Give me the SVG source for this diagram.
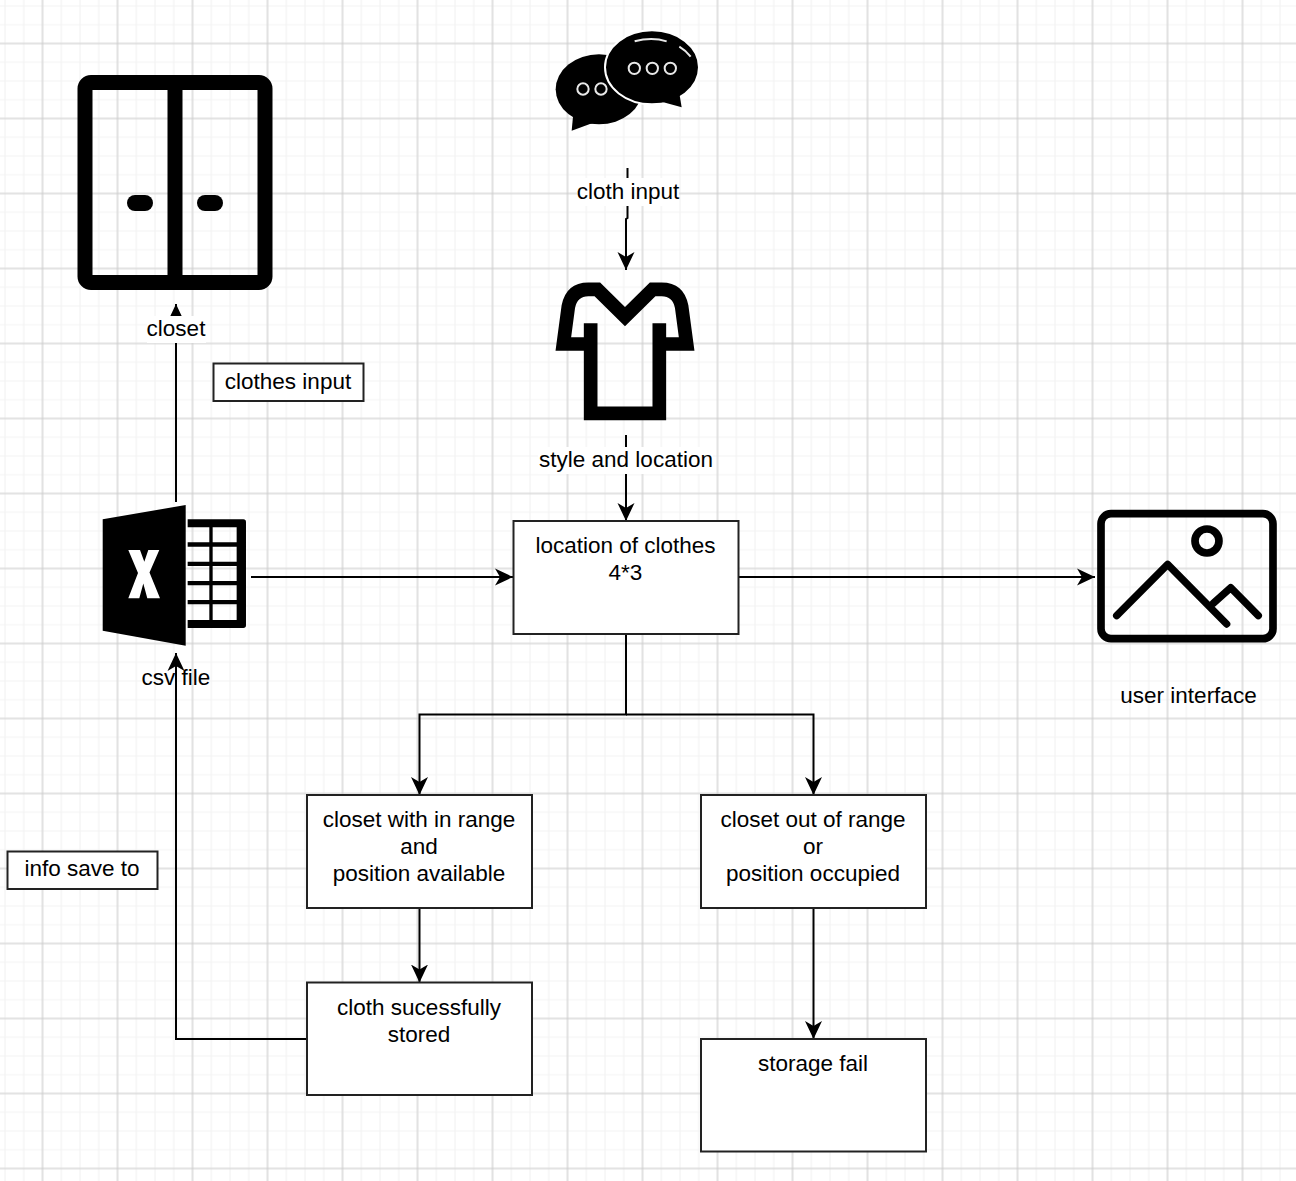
<svg xmlns="http://www.w3.org/2000/svg" width="1296" height="1181" viewBox="0 0 1296 1181">
<style>
text{font-family:"Liberation Sans",Arial,sans-serif;font-size:22.500px;fill:#000;text-anchor:middle}
.box{fill:#fff;stroke:#222;stroke-width:2}
.edge{fill:none;stroke:#000;stroke-width:2}
</style>
<defs>
<pattern id="minor" width="18.75" height="18.75" patternUnits="userSpaceOnUse" x="4" y="5"><path d="M0 1H18.75M1 0V18.75" fill="none" stroke="#f3f3f3" stroke-width="1.200"/></pattern>
<pattern id="major" width="75" height="75" patternUnits="userSpaceOnUse" x="41.500" y="42.500"><path d="M0 1H75M1 0V75" fill="none" stroke="#cccccc" stroke-width="1"/></pattern>
<marker id="arrow" markerUnits="userSpaceOnUse" markerWidth="20" markerHeight="20" refX="18" refY="9" orient="auto" viewBox="0 0 20 18"><path d="M0 0.500L18 9L0 17.500L5 9Z" fill="#000"/></marker>
</defs>
<rect width="1296" height="1181" fill="#fff"/>
<rect width="1296" height="1181" fill="url(#minor)"/>
<rect width="1296" height="1181" fill="url(#major)"/>
<g id="connectors">
<path class="edge" d="M627.500 168V218L626 219V270" marker-end="url(#arrow)"/>
<path class="edge" d="M626 435V521" marker-end="url(#arrow)"/>
<path class="edge" d="M176 502V304" marker-end="url(#arrow)"/>
<path class="edge" d="M251 577H513" marker-end="url(#arrow)"/>
<path class="edge" d="M738.500 577H1095" marker-end="url(#arrow)"/>
<path class="edge" d="M626 634V714.500H419.500V795" marker-end="url(#arrow)"/>
<path class="edge" d="M626 714.500H813.500V795" marker-end="url(#arrow)"/>
<path class="edge" d="M419.500 908V982.500" marker-end="url(#arrow)"/>
<path class="edge" d="M813.500 908V1039" marker-end="url(#arrow)"/>
<path class="edge" d="M307 1039H176V653" marker-end="url(#arrow)"/>
</g>
<g id="closet">
<rect x="85" y="82.500" width="180" height="200" rx="6" fill="none" stroke="#000" stroke-width="15"/>
<rect x="167.500" y="80" width="15" height="205" fill="#000"/>
<rect x="127" y="195" width="26" height="16" rx="8" fill="#000"/>
<rect x="197" y="195" width="26" height="16" rx="8" fill="#000"/>
<rect x="147" y="316" width="59" height="27" fill="#fff"/>
<text x="176" y="336">closet</text>
</g>
<g id="chat">
<g transform="translate(530 10) scale(.3333)">
<ellipse cx="207" cy="238" rx="130" ry="105" fill="#000"/>
<path d="M130 310L125 362L190 338Z" fill="#000"/>
<ellipse cx="366" cy="172" rx="141" ry="111" fill="#000" stroke="#fff" stroke-width="6"/>
<path d="M395 275L455 292L448 250Z" fill="#000"/>
<g fill="none" stroke="#e8e8e8" stroke-width="6">
<circle cx="159" cy="237" r="17"/><circle cx="213" cy="237" r="17"/>
<circle cx="313" cy="175" r="17"/><circle cx="367" cy="175" r="17"/><circle cx="421" cy="175" r="17"/>
<path d="M314 94Q365 80 410 94M448 110Q468 122 482 140"/>
</g>
</g>
<rect x="577" y="178" width="102" height="28" fill="#fff"/>
<text x="628" y="199">cloth input</text>
</g>
<g id="shirt">
<path transform="translate(530 260) scale(.3333)" d="M162 252H100L115 140Q125 88 175 88H202L285 170L368 88H395Q445 88 455 140L470 252H408M182 190V460H388V190" fill="none" stroke="#000" stroke-width="41"/>
<rect x="538" y="447" width="175" height="27" fill="#fff"/>
<text x="626" y="467">style and location</text>
</g>
<g id="excel">
<path d="M102.700 519.300L185.700 505V645.700L102.700 630.700Z" fill="#000"/>
<path d="M128.300 550H140L144.300 561.700L148.300 550H159.300L149.500 572.500L160 598.300H147.300L143.300 583.500L139.300 598.300H128.300L138 573Z" fill="#fff"/>
<g transform="translate(90 490) scale(.3333)">
<path fill-rule="evenodd" d="M293 88H460Q468 88 468 96V406Q468 414 460 414H293ZM293 112V157H358V112ZM368 112V157H440V112ZM293 170V215H358V170ZM368 170V215H440V170ZM293 228V273H358V228ZM368 228V273H440V228ZM293 286V330H358V286ZM368 286V330H440V286ZM293 343V390H358V343ZM368 343V390H440V343Z" fill="#000"/>
</g>
<text x="176" y="685">csv file</text>
</g>
<g id="image">
<g transform="translate(1080 495) scale(.3333)" fill="none" stroke="#000" stroke-linecap="round" stroke-linejoin="round">
<rect x="63" y="56" width="516" height="375" rx="30" stroke-width="23"/>
<circle cx="381" cy="138" r="36" stroke-width="23"/>
<path d="M110 362L263 208L440 387M400 325L452 278L535 362" stroke-width="22"/>
</g>
<text x="1188.500" y="703">user interface</text>
</g>
<g id="note-clothes"><rect class="box" x="213.500" y="363.500" width="150" height="37.500"/><text x="288" y="389">clothes input</text></g>
<g id="note-info"><rect class="box" x="7.500" y="851.500" width="150" height="37.500"/><text x="82" y="876">info save to</text></g>
<g id="location"><rect class="box" x="513.500" y="521" width="225" height="113"/><text x="625.500" y="553">location of clothes</text><text x="625.500" y="580">4*3</text></g>
<g id="in-range"><rect class="box" x="307" y="795" width="225" height="113"/><text x="419" y="827">closet with in range</text><text x="419" y="854">and</text><text x="419" y="881">position available</text></g>
<g id="out-range"><rect class="box" x="701" y="795" width="225" height="113"/><text x="813" y="827">closet out of range</text><text x="813" y="854">or</text><text x="813" y="881">position occupied</text></g>
<g id="stored"><rect class="box" x="307" y="982.500" width="225" height="112.500"/><text x="419" y="1015">cloth sucessfully</text><text x="419" y="1042">stored</text></g>
<g id="fail"><rect class="box" x="701" y="1039" width="225" height="112.500"/><text x="813" y="1071">storage fail</text></g>
</svg>
